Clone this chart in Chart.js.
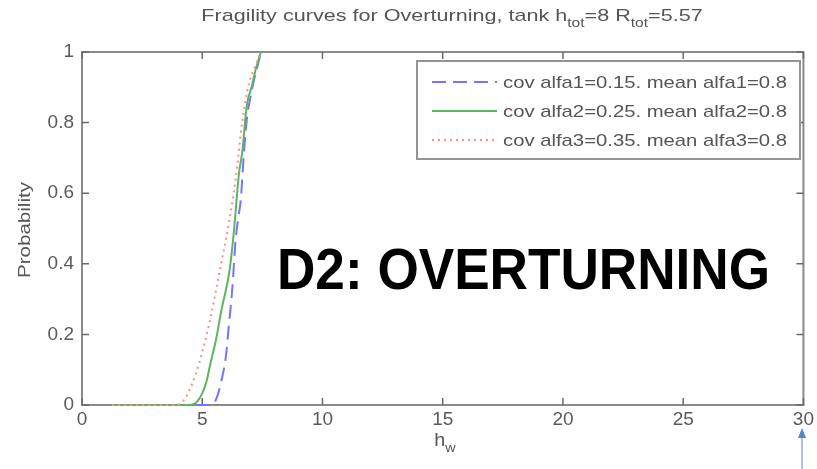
<!DOCTYPE html>
<html>
<head>
<meta charset="utf-8">
<script src="https://cdn.jsdelivr.net/npm/chart.js@4.4.1/dist/chart.umd.min.js"></script>
<style>
  html, body { margin: 0; padding: 0; background: #fff; }
  #wrap { width: 817px; height: 469px; position: relative; }
</style>
</head>
<body>
<div id="wrap"><canvas id="chart"></canvas></div>
<script>
// values
const hw1 = [1.25, 5.4, 5.6, 5.8, 5.98, 6.1, 6.25, 6.39, 6.5, 6.6, 6.74, 6.87, 7.0, 7.15, 7.3, 7.44];
const p1  = [0, 0, 0.02, 0.07, 0.136, 0.22, 0.33, 0.47, 0.53, 0.58, 0.72, 0.82, 0.87, 0.92, 0.96, 1.0];

const hw2 = [1.25, 4.45, 4.8, 5.15, 5.35, 5.57, 5.8, 6.12, 6.3, 6.53, 6.67, 6.8, 6.87, 7.05, 7.22, 7.44];
const p2  = [0, 0, 0.01, 0.06, 0.12, 0.184, 0.27, 0.374, 0.48, 0.657, 0.72, 0.816, 0.855, 0.9, 0.95, 1.0];

const hw3 = [1.25, 3.9, 4.3, 4.74, 5.0, 5.29, 5.7, 6.12, 6.39, 6.66, 6.94, 7.2, 7.44];
const p3  = [0, 0, 0.02, 0.09, 0.15, 0.23, 0.37, 0.52, 0.64, 0.80, 0.91, 0.96, 1.0];

const seriesLabels = [
  'cov alfa1=0.15. mean alfa1=0.8',
  'cov alfa2=0.25. mean alfa2=0.8',
  'cov alfa3=0.35. mean alfa3=0.8'
];
const xTicks = ['0', '5', '10', '15', '20', '25', '30'];
const yTicks = ['0', '0.2', '0.4', '0.6', '0.8', '1'];

const colors = ['#7474ff', '#5fb45f', '#ff8c8c'];
const dashes = [[14, 7], [], [2, 4]];

function pts(xs, ys) {
  return xs.map((x, i) => ({ x: x, y: ys[i] }));
}

// text squeezed/stretched to a given width (picture is wider than tall)
function fitText(ctx, txt, x, y, w) {
  const m = ctx.measureText(txt).width;
  ctx.save();
  ctx.translate(x, y);
  ctx.scale(w / m, 1);
  ctx.fillText(txt, 0, 0);
  ctx.restore();
}

// draws runs of [text, isSub] with a horizontal stretch
function drawRuns(ctx, runs, x, y, size, stretch, align) {
  let total = 0;
  runs.forEach(r => {
    ctx.font = (r[1] ? size * 0.72 : size) + 'px "Liberation Sans", Arial, sans-serif';
    total += ctx.measureText(r[0]).width * stretch;
  });
  let cx = align === 'center' ? x - total / 2 : x;
  runs.forEach(r => {
    ctx.font = (r[1] ? size * 0.72 : size) + 'px "Liberation Sans", Arial, sans-serif';
    const w = ctx.measureText(r[0]).width;
    ctx.save();
    ctx.translate(cx, y + (r[1] ? size * 0.35 : 0));
    ctx.scale(stretch, 1);
    ctx.fillText(r[0], 0, 0);
    ctx.restore();
    cx += w * stretch;
  });
}

const decor = {
  id: 'decor',
  beforeDatasetsDraw(chart) {
    const ctx = chart.ctx;
    const a = chart.chartArea;
    const xs = chart.scales.x, ys = chart.scales.y;
    ctx.save();

    // axes box (curves are drawn over it, like the reference)
    ctx.strokeStyle = '#8a8a8a';
    ctx.lineWidth = 2;
    ctx.strokeRect(a.left, a.top, a.right - a.left, a.bottom - a.top);

    // inside ticks on all four sides
    ctx.strokeStyle = '#6a6a6a';
    ctx.lineWidth = 1.5;
    ctx.beginPath();
    xTicks.forEach(t => {
      const px = xs.getPixelForValue(+t);
      ctx.moveTo(px, a.bottom); ctx.lineTo(px, a.bottom - 7);
      ctx.moveTo(px, a.top); ctx.lineTo(px, a.top + 7);
    });
    yTicks.forEach(t => {
      const py = ys.getPixelForValue(+t);
      ctx.moveTo(a.left, py); ctx.lineTo(a.left + 7, py);
      ctx.moveTo(a.right, py); ctx.lineTo(a.right - 7, py);
    });
    ctx.stroke();
    ctx.restore();
  },
  afterDatasetsDraw(chart) {
    const ctx = chart.ctx;
    ctx.save();

    // legend box
    const lx = 417, ly = 61, lw = 383, lh = 98;
    ctx.fillStyle = '#fff';
    ctx.fillRect(lx, ly, lw, lh);
    ctx.strokeStyle = '#959595';
    ctx.lineWidth = 2;
    ctx.strokeRect(lx, ly, lw, lh);
    const rows = [82, 111, 140];
    ctx.font = '17px "Liberation Sans", Arial, sans-serif';
    ctx.textBaseline = 'middle';
    seriesLabels.forEach((lab, i) => {
      ctx.strokeStyle = colors[i];
      ctx.lineWidth = 2;
      ctx.setLineDash(dashes[i]);
      ctx.beginPath();
      ctx.moveTo(432, rows[i]);
      ctx.lineTo(497, rows[i]);
      ctx.stroke();
      ctx.setLineDash([]);
      ctx.fillStyle = '#555';
      fitText(ctx, lab, 503, rows[i] + 1, 284);
    });

    // big annotation
    ctx.fillStyle = '#000';
    ctx.font = 'bold 57px "Liberation Sans", Arial, sans-serif';
    ctx.textBaseline = 'alphabetic';
    fitText(ctx, 'D2: OVERTURNING', 277, 289, 493);
    ctx.restore();
  },
  afterDraw(chart) {
    const ctx = chart.ctx;
    const a = chart.chartArea;
    ctx.save();
    ctx.fillStyle = '#555';
    ctx.textBaseline = 'alphabetic';

    // title with subscripts
    drawRuns(ctx, [
      ['Fragility curves for Overturning, tank h', false], ['tot', true],
      ['=8 R', false], ['tot', true], ['=5.57', false]
    ], 452, 21, 17, 1.27, 'center');

    // x label h_w
    drawRuns(ctx, [['h', false], ['w', true]], 445, 446, 18, 1.1, 'center');

    // y label
    ctx.save();
    ctx.translate(30, 230);
    ctx.rotate(-Math.PI / 2);
    ctx.font = '17px "Liberation Sans", Arial, sans-serif';
    const m = ctx.measureText('Probability').width;
    ctx.scale(96 / m, 1);
    ctx.textAlign = 'center';
    ctx.fillText('Probability', 0, 0);
    ctx.restore();

    // blue arrow at the bottom right
    ctx.strokeStyle = '#a9c3e4';
    ctx.lineWidth = 2;
    ctx.beginPath();
    ctx.moveTo(802, 436);
    ctx.lineTo(802, 469);
    ctx.stroke();
    ctx.fillStyle = '#4f86c6';
    ctx.beginPath();
    ctx.moveTo(802, 428);
    ctx.lineTo(806, 438);
    ctx.lineTo(798, 438);
    ctx.closePath();
    ctx.fill();
    ctx.restore();
  }
};

const series = [pts(hw1, p1), pts(hw2, p2), pts(hw3, p3)];

new Chart(document.getElementById('chart'), {
  type: 'scatter',
  data: {
    datasets: series.map((d, i) => ({
      label: seriesLabels[i],
      data: d,
      showLine: true,
      borderColor: colors[i],
      borderWidth: 2,
      borderDash: dashes[i],
      pointRadius: 0,
      fill: false,
      cubicInterpolationMode: 'monotone',
      order: 2 - i
    }))
  },
  options: {
    responsive: true,
    maintainAspectRatio: false,
    animation: false,
    clip: 2,
    layout: { padding: { top: 52, right: 9, left: 0, bottom: 0 } },
    plugins: {
      legend: { display: false },
      title: { display: false },
      tooltip: { enabled: false }
    },
    scales: {
      x: {
        type: 'linear',
        min: 0, max: 30,
        afterFit: s => { s.height = 64; },
        afterBuildTicks: s => { s.ticks = xTicks.map(v => ({ value: +v })); },
        ticks: {
          callback: (v, i) => xTicks[i],
          color: '#5a5a5a',
          font: { family: '"Liberation Sans", Arial, sans-serif', size: 19 },
          padding: 3,
          maxRotation: 0
        },
        grid: { display: false, drawTicks: false },
        border: { display: false }
      },
      y: {
        type: 'linear',
        min: 0, max: 1,
        afterFit: s => { s.width = 82; },
        afterBuildTicks: s => { s.ticks = yTicks.map(v => ({ value: +v })); },
        ticks: {
          callback: (v, i) => yTicks[i],
          color: '#5a5a5a',
          font: { family: '"Liberation Sans", Arial, sans-serif', size: 19 },
          padding: 8
        },
        grid: { display: false, drawTicks: false },
        border: { display: false }
      }
    }
  },
  plugins: [decor]
});
</script>
</body>
</html>
